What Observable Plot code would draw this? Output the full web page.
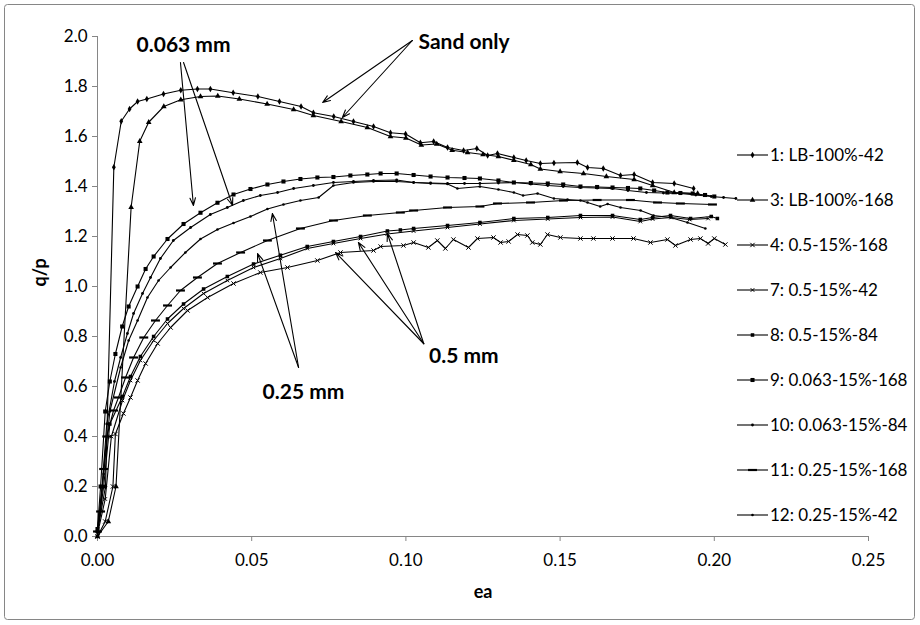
<!DOCTYPE html>
<html><head><meta charset="utf-8">
<script src="https://cdn.jsdelivr.net/npm/d3@7"></script>
<script src="https://cdn.jsdelivr.net/npm/@observablehq/plot@0.6"></script>
<style>
body{margin:0;background:#fff;}
#chart{position:relative;width:920px;height:625px;}
</style>
</head><body><div id="chart"></div>
<script>
// ---- data (ea, q/p) ----
const s1 = [[0,0.02],[0.0026,0.2],[0.0053,1.477],[0.0077,1.661],[0.0104,1.71],[0.013,1.74],[0.016,1.75],[0.0214,1.77],[0.027,1.785],[0.0324,1.79],[0.0366,1.79],[0.044,1.775],[0.052,1.76],[0.059,1.74],[0.066,1.72],[0.070,1.695],[0.0766,1.68],[0.083,1.66],[0.0895,1.64],[0.095,1.615],[0.0999,1.61],[0.1047,1.575],[0.109,1.58],[0.1135,1.556],[0.1187,1.544],[0.123,1.552],[0.1265,1.524],[0.1297,1.532],[0.135,1.516],[0.139,1.504],[0.1436,1.492],[0.148,1.494],[0.1556,1.496],[0.1589,1.476],[0.164,1.472],[0.1696,1.444],[0.174,1.448],[0.180,1.416],[0.187,1.412],[0.1933,1.392]];
const s3 = [[0,0],[0.0035,0.06],[0.006,0.2],[0.0109,1.317],[0.0137,1.581],[0.0166,1.657],[0.0215,1.72],[0.027,1.747],[0.0334,1.76],[0.039,1.762],[0.046,1.75],[0.055,1.73],[0.0636,1.708],[0.070,1.684],[0.079,1.66],[0.0875,1.636],[0.095,1.60],[0.1,1.594],[0.105,1.566],[0.11,1.57],[0.115,1.545],[0.12,1.536],[0.125,1.528],[0.13,1.52],[0.135,1.505],[0.1405,1.488],[0.1436,1.47],[0.15,1.46],[0.1576,1.452],[0.165,1.44],[0.174,1.428],[0.180,1.404],[0.187,1.376],[0.1946,1.372]];
const s4 = [[0,0],[0.0025,0.06],[0.005,0.2],[0.0058,0.41],[0.0084,0.492],[0.0107,0.556],[0.013,0.624],[0.0156,0.692],[0.0195,0.772],[0.0237,0.836],[0.0292,0.904],[0.0357,0.956],[0.0441,1.012],[0.0528,1.056],[0.0616,1.076],[0.0713,1.104],[0.0788,1.136],[0.0895,1.144],[0.0918,1.16],[0.0992,1.164],[0.1025,1.176],[0.1073,1.156],[0.1102,1.184],[0.1128,1.152],[0.1154,1.188],[0.1203,1.156],[0.1232,1.192],[0.1284,1.196],[0.1307,1.176],[0.1333,1.18],[0.1362,1.208],[0.1394,1.204],[0.141,1.176],[0.1436,1.168],[0.1459,1.208],[0.1501,1.196],[0.1566,1.192],[0.1608,1.192],[0.167,1.192],[0.1738,1.192],[0.1793,1.176],[0.1848,1.188],[0.1874,1.164],[0.1923,1.188],[0.1955,1.192],[0.198,1.172],[0.2,1.192],[0.2036,1.168]];
const s7 = [[0,0.01],[0.0025,0.15],[0.0045,0.4],[0.0081,0.544],[0.0107,0.624],[0.0139,0.704],[0.0182,0.784],[0.0227,0.852],[0.0279,0.912],[0.0344,0.972],[0.0421,1.024],[0.0506,1.076],[0.0593,1.112],[0.068,1.152],[0.0765,1.172],[0.0853,1.192],[0.094,1.21],[0.1025,1.222],[0.1135,1.236],[0.124,1.25],[0.135,1.264],[0.146,1.27],[0.1566,1.276],[0.167,1.278],[0.176,1.26],[0.18,1.27],[0.186,1.276],[0.192,1.268],[0.198,1.272]];
const s8 = [[0,0.02],[0.002,0.2],[0.004,0.45],[0.0081,0.56],[0.0107,0.64],[0.0139,0.72],[0.0182,0.80],[0.0227,0.87],[0.0279,0.93],[0.0344,0.99],[0.0421,1.04],[0.0506,1.09],[0.0593,1.125],[0.068,1.16],[0.0765,1.18],[0.0853,1.20],[0.094,1.222],[0.0982,1.226],[0.1025,1.232],[0.1135,1.244],[0.124,1.256],[0.135,1.272],[0.146,1.276],[0.1566,1.284],[0.167,1.284],[0.176,1.268],[0.180,1.276],[0.1858,1.284],[0.1923,1.272],[0.199,1.28],[0.201,1.272]];
const s9 = [[0,0.03],[0.001,0.2],[0.0025,0.5],[0.004,0.62],[0.0058,0.73],[0.008,0.84],[0.0101,0.92],[0.013,1.0],[0.0156,1.07],[0.0182,1.12],[0.0227,1.19],[0.0279,1.25],[0.0334,1.295],[0.0389,1.335],[0.0441,1.368],[0.0496,1.39],[0.0551,1.408],[0.0603,1.42],[0.0658,1.43],[0.0713,1.436],[0.0765,1.438],[0.082,1.444],[0.0875,1.448],[0.0918,1.452],[0.097,1.452],[0.1025,1.446],[0.108,1.44],[0.1135,1.436],[0.119,1.434],[0.124,1.432],[0.13,1.424],[0.135,1.416],[0.1405,1.414],[0.146,1.412],[0.151,1.408],[0.1566,1.40],[0.162,1.398],[0.167,1.396],[0.172,1.394],[0.176,1.392],[0.1805,1.384],[0.1848,1.376],[0.189,1.374],[0.193,1.372],[0.197,1.366],[0.2,1.36]];
const s10 = [[0,0.02],[0.0015,0.2],[0.003,0.45],[0.0055,0.62],[0.0075,0.716],[0.0097,0.812],[0.0117,0.892],[0.0146,0.972],[0.0172,1.036],[0.0204,1.112],[0.0246,1.184],[0.0302,1.236],[0.0366,1.288],[0.0421,1.316],[0.0473,1.344],[0.0528,1.364],[0.0584,1.376],[0.0636,1.392],[0.070,1.404],[0.0765,1.416],[0.083,1.42],[0.0895,1.424],[0.097,1.426],[0.1025,1.416],[0.108,1.414],[0.1135,1.412],[0.119,1.412],[0.124,1.412],[0.13,1.414],[0.135,1.416],[0.1405,1.41],[0.146,1.404],[0.151,1.40],[0.1566,1.396],[0.162,1.394],[0.167,1.392],[0.172,1.384],[0.178,1.376],[0.1835,1.374],[0.189,1.372],[0.194,1.366],[0.199,1.36],[0.203,1.356],[0.207,1.352]];
const s11 = [[0,0.02],[0.001,0.1],[0.002,0.27],[0.003,0.4],[0.0052,0.504],[0.0068,0.556],[0.0091,0.636],[0.0117,0.716],[0.015,0.796],[0.0188,0.864],[0.0227,0.924],[0.0269,0.984],[0.0324,1.036],[0.0389,1.092],[0.0464,1.136],[0.0551,1.184],[0.0658,1.232],[0.0765,1.264],[0.0875,1.284],[0.0982,1.296],[0.1025,1.304],[0.1135,1.316],[0.124,1.32],[0.1297,1.332],[0.1404,1.336],[0.1511,1.344],[0.162,1.346],[0.1728,1.346],[0.1816,1.336],[0.189,1.332],[0.1994,1.328]];
const s12 = [[0,0.03],[0.002,0.25],[0.004,0.5],[0.0075,0.676],[0.0101,0.784],[0.013,0.864],[0.0162,0.956],[0.0198,1.024],[0.0237,1.076],[0.0285,1.136],[0.0334,1.19],[0.0389,1.228],[0.0441,1.254],[0.0496,1.28],[0.0551,1.31],[0.0603,1.328],[0.0658,1.344],[0.0717,1.356],[0.0765,1.404],[0.083,1.416],[0.0895,1.42],[0.097,1.42],[0.1025,1.416],[0.108,1.412],[0.1135,1.41],[0.1167,1.392],[0.124,1.40],[0.13,1.388],[0.135,1.376],[0.138,1.364],[0.1427,1.372],[0.148,1.352],[0.1524,1.348],[0.1566,1.344],[0.1589,1.336],[0.163,1.32],[0.1654,1.33],[0.1696,1.316],[0.1761,1.304],[0.1803,1.284],[0.1858,1.276],[0.1913,1.256],[0.1971,1.232]];

const seriesNames = ["1: LB-100%-42","3: LB-100%-168","4: 0.5-15%-168","7: 0.5-15%-42","8: 0.5-15%-84","9: 0.063-15%-168","10: 0.063-15%-84","11: 0.25-15%-168","12: 0.25-15%-42"];
const seriesData = [s1, s3, s4, s7, s8, s9, s10, s11, s12];

const xTicks = [0, 0.05, 0.10, 0.15, 0.20, 0.25];
const yTicks = [0, 0.2, 0.4, 0.6, 0.8, 1.0, 1.2, 1.4, 1.6, 1.8, 2.0];

// annotations
const labelText = ["0.063 mm", "Sand only", "0.25 mm", "0.5 mm"];
const labelX = [0.0279, 0.1041, 0.0668, 0.1075];
const labelY = [1.964, 1.976, 0.576, 0.720];
const labelAnchor = ["middle", "start", "middle", "start"];
const arrowFromX = [0.0269, 0.0279, 0.1021, 0.1021, 0.0652, 0.0652, 0.1058, 0.1058, 0.1058];
const arrowFromY = [1.896, 1.896, 1.984, 1.984, 0.676, 0.676, 0.771, 0.771, 0.771];
const arrowToX   = [0.0311, 0.0438, 0.0730, 0.0794, 0.0519, 0.0567, 0.0772, 0.0846, 0.0940];
const arrowToY   = [1.324, 1.324, 1.736, 1.676, 1.132, 1.292, 1.136, 1.176, 1.212];

// ---- marker shapes ----
const dashSym = {draw(ctx, size){const s=Math.sqrt(size); ctx.rect(-s*0.9,-s*0.22,s*1.8,s*0.44);}};
const markers = [
  {symbol: d3.symbolDiamond, r: 2.0, fill: "#000", stroke: "none"},
  {symbol: d3.symbolTriangle, r: 2.1, fill: "#000", stroke: "none"},
  {symbol: d3.symbolTimes, r: 2.1, fill: "none", stroke: "#000"},
  {symbol: d3.symbolTimes, r: 1.8, fill: "none", stroke: "#000"},
  {symbol: d3.symbolSquare, r: 2.0, fill: "#000", stroke: "none"},
  {symbol: d3.symbolSquare, r: 2.3, fill: "#000", stroke: "none"},
  {symbol: d3.symbolCircle, r: 1.4, fill: "#000", stroke: "none"},
  {symbol: dashSym, r: 2.8, fill: "#000", stroke: "none"},
  {symbol: d3.symbolCircle, r: 1.3, fill: "#000", stroke: "none"}
];

const FONT = "Lato, 'Open Sans', sans-serif";
const AX = "#868686";

const marks = [
  Plot.ruleY([0], {stroke: AX}),
  Plot.ruleX([0], {stroke: AX}),
  Plot.axisX({ticks: xTicks, tickFormat: d3.format(".2f"), tickSize: 5, tickPadding: 12, stroke: AX, fill: "#000", fontSize: 17, label: null}),
  Plot.axisY({ticks: yTicks, tickFormat: d3.format(".1f"), tickSize: 5, tickPadding: 5, stroke: AX, fill: "#000", fontSize: 17, label: null}),
  Plot.text(["q/p"], {frameAnchor: "left", dx: -57, rotate: -90, fontWeight: "bold", fontSize: 18, fontFamily: FONT}),
  Plot.text(["ea"], {frameAnchor: "bottom", dy: 61, fontWeight: "bold", fontSize: 18, fontFamily: FONT})
];
seriesData.forEach((pts, i) => {
  marks.push(Plot.line(pts, {x: d => d[0], y: d => d[1], stroke: "#000", strokeWidth: 1.1}));
  const m = markers[i];
  marks.push(Plot.dot(pts, {x: d => d[0], y: d => d[1], symbol: m.symbol, r: m.r, fill: m.fill, stroke: m.stroke, strokeWidth: 1}));
});
const arrowIdx = d3.range(arrowFromX.length);
marks.push(Plot.arrow(arrowIdx, {x1: i => arrowFromX[i], y1: i => arrowFromY[i], x2: i => arrowToX[i], y2: i => arrowToY[i], stroke: "#000", strokeWidth: 1.1, headLength: 11, headAngle: 40, inset: 0}));
for (const anchor of ["middle", "start"]) {
  const idx = d3.range(labelText.length).filter(i => labelAnchor[i] === anchor);
  marks.push(Plot.text(idx, {x: i => labelX[i], y: i => labelY[i], text: i => labelText[i], textAnchor: anchor, fontWeight: "bold", fontSize: 21, fontFamily: FONT, fill: "#000"}));
}

const chart = Plot.plot({
  width: 920, height: 625,
  marginLeft: 97, marginRight: 52, marginTop: 36, marginBottom: 89,
  x: {domain: [0, 0.25]},
  y: {domain: [0, 2]},
  style: {fontFamily: FONT, fontSize: "17px", color: "#000", background: "#fff", overflow: "visible"},
  marks
});

// chart-area border and legend
const svg = d3.select(chart);
svg.insert("rect", ":first-child").attr("x", 4.5).attr("y", 4.5).attr("width", 910).attr("height", 615).attr("rx", 3)
  .attr("fill", "#fff").attr("stroke", AX).attr("stroke-width", 1);
const leg = svg.append("g").attr("font-family", FONT).attr("font-size", 17).attr("text-anchor", "start");
seriesNames.forEach((name, i) => {
  const y = 155 + i * 45;
  const g = leg.append("g").attr("transform", `translate(737,${y})`);
  g.append("line").attr("x1", 0).attr("x2", 31).attr("stroke", "#000").attr("stroke-width", 1.1);
  const m = markers[i];
  const size = Math.PI * m.r * m.r;
  g.append("path").attr("transform", "translate(15.5,0)").attr("d", d3.symbol(m.symbol, size)())
    .attr("fill", m.fill).attr("stroke", m.stroke);
  g.append("text").attr("x", 33).attr("dy", "0.35em").attr("text-anchor", "start").attr("fill", "#000").text(name);
});

document.getElementById("chart").appendChild(chart);
</script>
</body></html>
